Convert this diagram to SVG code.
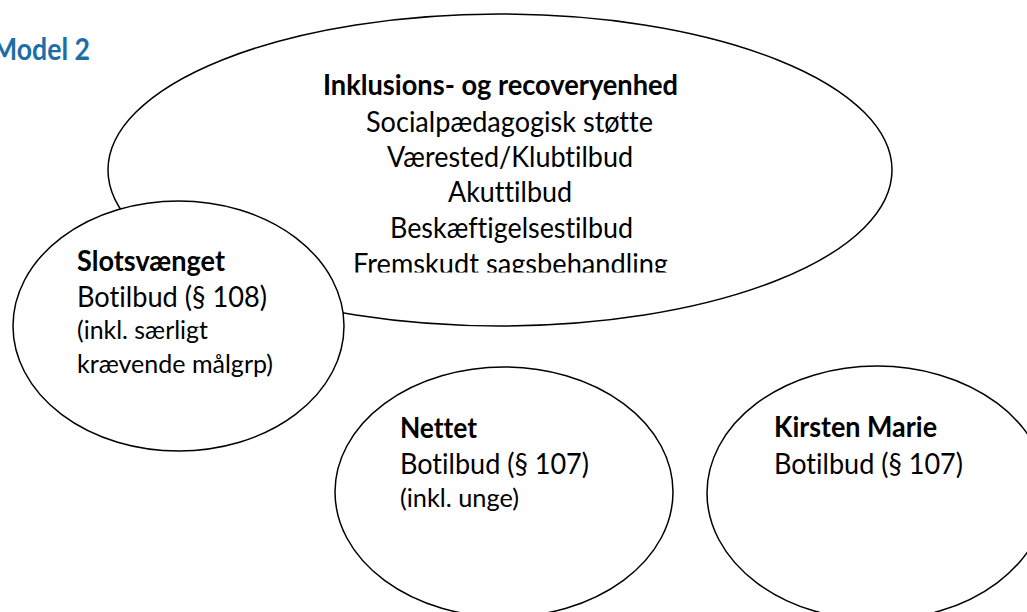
<svg xmlns="http://www.w3.org/2000/svg" width="1027" height="612" viewBox="0 0 1027 612">
  <style>
    .shape { fill: #ffffff; stroke: #000000; stroke-width: 1.5; }
    .t { font-family: Lato, "Open Sans", "Liberation Sans", sans-serif; fill: #000000; font-variant-ligatures: none; font-feature-settings: "liga" 0, "clig" 0; }
    .b { font-weight: 700; font-size: 29px; }
    .r { font-weight: 400; font-size: 29px; }
    .s { font-weight: 400; font-size: 25.5px; }
    .title { font-family: Lato, "Open Sans", "Liberation Sans", sans-serif; font-weight: 700; font-size: 31px; fill: #1d6ea8; }
  </style>
  <defs>
    <clipPath id="clipInk">
      <rect x="300" y="55" width="420" height="217.5"/>
    </clipPath>
  </defs>
  <rect x="0" y="0" width="1027" height="612" fill="#ffffff"/>

  <g id="title">
    <text class="title" x="-8" y="60" textLength="98" lengthAdjust="spacingAndGlyphs">Model 2</text>
  </g>

  <g id="node-inklusion">
    <ellipse class="shape" cx="500" cy="170" rx="392" ry="156"/>
    <g clip-path="url(#clipInk)">
      <text class="t b" x="323" y="95" textLength="355" lengthAdjust="spacingAndGlyphs">Inklusions- og recoveryenhed</text>
      <text class="t r" x="366" y="131.5" textLength="287" lengthAdjust="spacingAndGlyphs">Socialpædagogisk støtte</text>
      <text class="t r" x="387" y="166.5" textLength="246" lengthAdjust="spacingAndGlyphs">Værested/Klubtilbud</text>
      <text class="t r" x="448" y="202" textLength="124" lengthAdjust="spacingAndGlyphs">Akuttilbud</text>
      <text class="t r" x="390" y="237.5" textLength="243" lengthAdjust="spacingAndGlyphs">Beskæftigelsestilbud</text>
      <text class="t r" x="353" y="273.5" textLength="315" lengthAdjust="spacingAndGlyphs">Fremskudt sagsbehandling</text>
    </g>
  </g>

  <g id="node-slotsvaenget">
    <ellipse class="shape" cx="178.5" cy="326" rx="165.5" ry="125"/>
    <text class="t b" x="77" y="271" textLength="148" lengthAdjust="spacingAndGlyphs">Slotsvænget</text>
    <text class="t r" x="77" y="307" textLength="190" lengthAdjust="spacingAndGlyphs">Botilbud (§ 108)</text>
    <text class="t s" x="77" y="339" textLength="131" lengthAdjust="spacingAndGlyphs">(inkl. særligt</text>
    <text class="t s" x="77" y="373" textLength="196" lengthAdjust="spacingAndGlyphs">krævende målgrp)</text>
  </g>

  <g id="node-nettet">
    <ellipse class="shape" cx="504" cy="492" rx="169" ry="125"/>
    <text class="t b" x="400" y="438" textLength="77" lengthAdjust="spacingAndGlyphs">Nettet</text>
    <text class="t r" x="400" y="474" textLength="189" lengthAdjust="spacingAndGlyphs">Botilbud (§ 107)</text>
    <text class="t s" x="400" y="507" textLength="119" lengthAdjust="spacingAndGlyphs">(inkl. unge)</text>
  </g>

  <g id="node-kirsten-marie">
    <ellipse class="shape" cx="877" cy="493" rx="170" ry="127"/>
    <text class="t b" x="774" y="437" textLength="163" lengthAdjust="spacingAndGlyphs">Kirsten Marie</text>
    <text class="t r" x="774" y="474" textLength="189" lengthAdjust="spacingAndGlyphs">Botilbud (§ 107)</text>
  </g>

  <g id="connectors"/>
</svg>
